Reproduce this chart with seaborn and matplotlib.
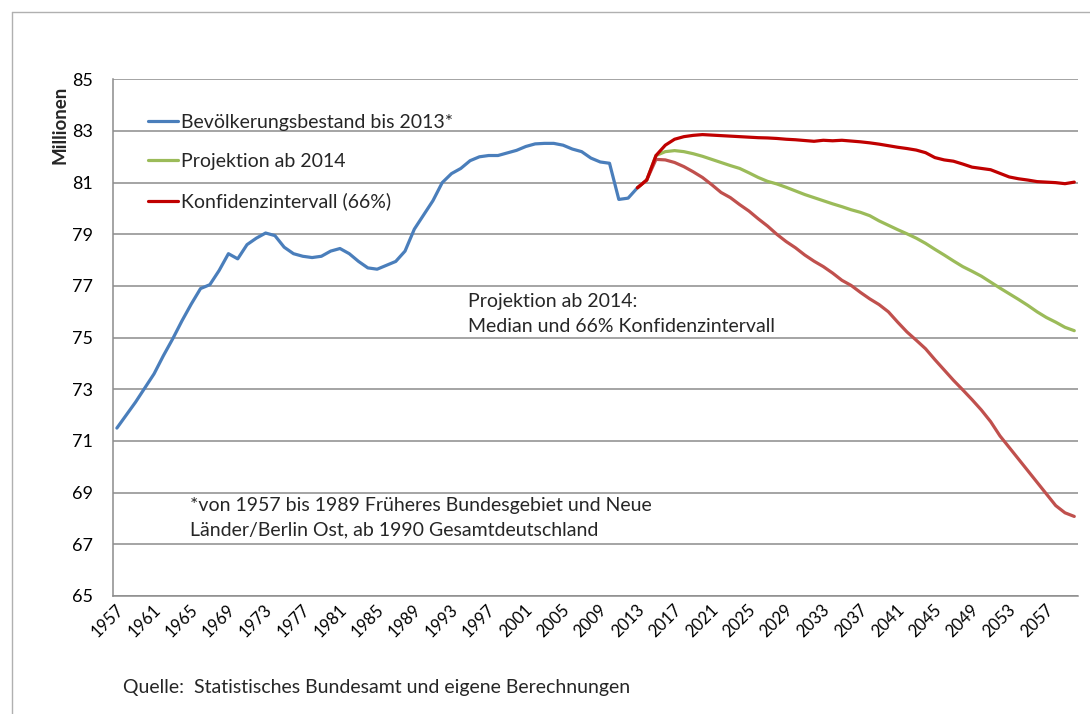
import matplotlib
matplotlib.use("Agg")
import matplotlib.pyplot as plt
import matplotlib.transforms as mtransforms
import seaborn as sns
import numpy as np
import pandas as pd
from matplotlib.lines import Line2D

# Bevölkerungsbestand 1957-2013 (Mio.)
jahre_bestand = list(range(1957, 2014))
bestand = [71.5, 72.0, 72.5, 73.05, 73.6, 74.3, 74.95, 75.65, 76.3, 76.9,
           77.05, 77.6, 78.25, 78.05, 78.6, 78.85, 79.05, 78.95, 78.5, 78.25,
           78.15, 78.1, 78.15, 78.35, 78.45, 78.25, 77.95, 77.7, 77.65, 77.8,
           77.95, 78.35, 79.2, 79.75, 80.3, 81.0, 81.35, 81.55, 81.85, 82.0,
           82.05, 82.05, 82.15, 82.25, 82.4, 82.5, 82.52, 82.52, 82.45, 82.3,
           82.2, 81.95, 81.8, 81.75, 80.35, 80.4, 80.8]

# Projektion 2013-2060
jahre_proj = list(range(2013, 2061))
median = [80.8, 81.1, 82.05, 82.2, 82.24, 82.2, 82.12, 82.02, 81.9, 81.78,
          81.66, 81.55, 81.38, 81.2, 81.05, 80.95, 80.82, 80.68, 80.54, 80.42,
          80.3, 80.18, 80.07, 79.95, 79.85, 79.72, 79.52, 79.35, 79.18, 79.02,
          78.85, 78.65, 78.42, 78.2, 77.97, 77.75, 77.57, 77.38, 77.15, 76.92,
          76.7, 76.48, 76.25, 76.0, 75.78, 75.6, 75.4, 75.27]
ki_oben = [80.8, 81.1, 82.05, 82.45, 82.68, 82.78, 82.83, 82.86, 82.84, 82.82,
           82.8, 82.78, 82.76, 82.74, 82.73, 82.71, 82.68, 82.66, 82.63, 82.6,
           82.64, 82.62, 82.64, 82.61, 82.58, 82.54, 82.49, 82.43, 82.37, 82.32,
           82.26, 82.16, 81.97, 81.88, 81.83, 81.72, 81.6, 81.55, 81.5, 81.36,
           81.22, 81.15, 81.1, 81.04, 81.02, 81.0, 80.96, 81.02]
ki_unten = [80.8, 81.1, 81.9, 81.88, 81.78, 81.62, 81.42, 81.2, 80.92, 80.62,
            80.42, 80.15, 79.9, 79.6, 79.32, 79.0, 78.72, 78.48, 78.2, 77.96,
            77.75, 77.5, 77.22, 77.02, 76.75, 76.5, 76.28, 76.0, 75.6, 75.22,
            74.9, 74.57, 74.15, 73.75, 73.35, 72.98, 72.6, 72.2, 71.75, 71.2,
            70.75, 70.3, 69.85, 69.4, 68.95, 68.5, 68.22, 68.08]

x_ticks = list(range(1957, 2060, 4))
y_ticks = list(range(65, 86, 2))

sns.set_theme(style="white")
plt.rcParams['font.family'] = ['Lato', 'DejaVu Sans']

fig = plt.figure(figsize=(10.9, 7.14), dpi=100)
ax = fig.add_axes([112.7 / 1090, 1 - 596 / 714, (1078 - 112.7) / 1090, 516.7 / 714])

lw = 2.3
sns.lineplot(x=jahre_bestand, y=bestand, ax=ax, color='#4a7ebb', lw=lw,
             label='Bevölkerungsbestand bis 2013*')
sns.lineplot(x=jahre_proj, y=median, ax=ax, color='#9bbb59', lw=lw,
             label='Projektion ab 2014')
sns.lineplot(x=jahre_proj, y=ki_unten, ax=ax, color='#c0504d', lw=lw,
             legend=False)
sns.lineplot(x=jahre_proj, y=ki_oben, ax=ax, color='#c00000', lw=lw,
             label='Konfidenzintervall (66%)')

ax.set_xlim(1957 - 0.45, 2060 + 0.4)
ax.set_ylim(65, 85)
ax.set_xticks(x_ticks)
ax.set_xticklabels([str(j) for j in x_ticks], rotation=45, ha='right', va='center',
                   rotation_mode='anchor', fontsize=12)
ax.set_yticks(y_ticks)
ax.set_yticklabels([str(v) for v in y_ticks], fontsize=13)
ax.tick_params(axis='both', length=0, colors='#000000')
ax.tick_params(axis='y', pad=14)
ax.tick_params(axis='x', pad=8)
ax.set_xlabel('')
ax.set_ylabel('')

# Jahreszahlen etwas nach rechts schieben
shift = mtransforms.ScaledTranslation(4 / 100, 0, fig.dpi_scale_trans)
for lab in ax.get_xticklabels():
    lab.set_transform(lab.get_transform() + shift)

ax.yaxis.grid(True, color='#8c8c8c', lw=1.1)
ax.xaxis.grid(False)
for s in ['top', 'right']:
    ax.spines[s].set_visible(False)
for s in ['left', 'bottom']:
    ax.spines[s].set_color('#8c8c8c')
    ax.spines[s].set_linewidth(1.1)

leg = ax.legend(loc='upper left', bbox_to_anchor=(0.0366, 0.933), frameon=False,
                fontsize=14, handlelength=1.55, handletextpad=0.12,
                labelspacing=1.15, borderpad=0, borderaxespad=0)

ax.text(0.368, 0.587, 'Projektion ab 2014:\nMedian und 66% Konfidenzintervall',
        transform=ax.transAxes, fontsize=14, va='top', ha='left', linespacing=1.57)
ax.text(0.080, 0.192, '*von 1957 bis 1989 Früheres Bundesgebiet und Neue\n'
        'Länder/Berlin Ost, ab 1990 Gesamtdeutschland',
        transform=ax.transAxes, fontsize=14, va='top', ha='left', linespacing=1.57)

fig.text(60 / 1090, 1 - 125 / 714, 'Millionen', rotation=90, fontsize=13.5,
         fontweight='bold', ha='center', va='center')
fig.text(123 / 1090, 1 - 687 / 714, 'Quelle:  Statistisches Bundesamt und eigene Berechnungen',
         fontsize=14, ha='left', va='center')

# Rahmen um das Diagramm
fig.add_artist(Line2D([12 / 1090, 12 / 1090], [0, 1 - 12 / 714], color='#b0b0b0', lw=1))
fig.add_artist(Line2D([12 / 1090, 1], [1 - 12 / 714, 1 - 12 / 714], color='#b0b0b0', lw=1))

plt.savefig('out.png', dpi=100)
plt.close()
